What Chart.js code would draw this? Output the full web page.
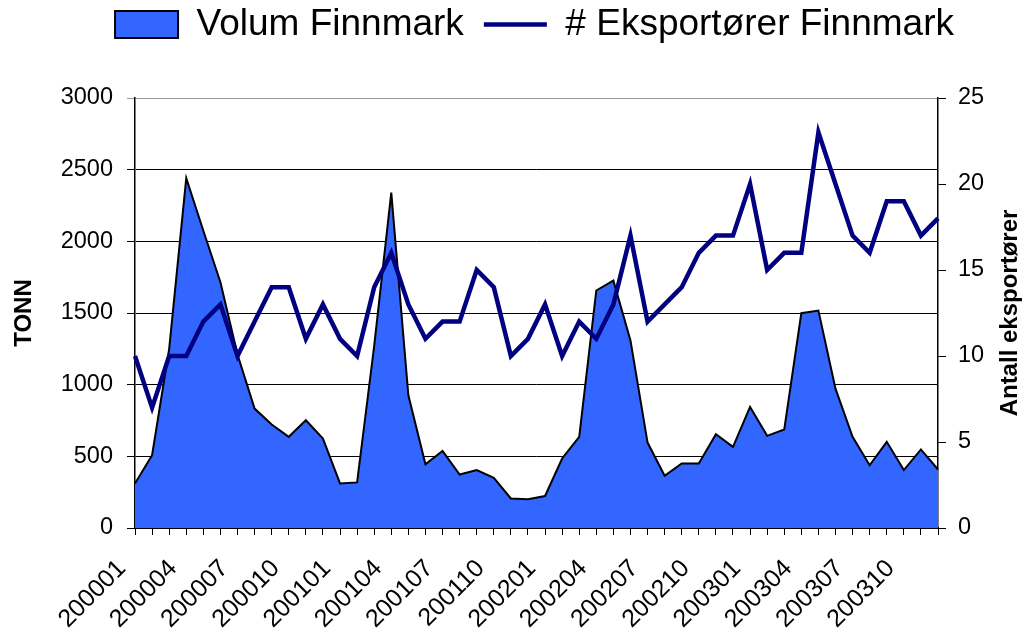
<!DOCTYPE html>
<html>
<head>
<meta charset="utf-8">
<title>Volum og eksportører Finnmark</title>
<script src="https://cdn.jsdelivr.net/npm/chart.js@4.4.1/dist/chart.umd.min.js"></script>
<style>
  body { margin: 0; background: #fff; }
  canvas { display: block; }
</style>
</head>
<body>
<canvas id="chart" width="1025" height="634"></canvas>
<script>
const months = [
    '200001', '200002', '200003', '200004', '200005', '200006', '200007', '200008', '200009', '200010', '200011', '200012',
    '200101', '200102', '200103', '200104', '200105', '200106', '200107', '200108', '200109', '200110', '200111', '200112',
    '200201', '200202', '200203', '200204', '200205', '200206', '200207', '200208', '200209', '200210', '200211', '200212',
    '200301', '200302', '200303', '200304', '200305', '200306', '200307', '200308', '200309', '200310', '200311', '200312'
];

const volum = [
    311, 508, 1250, 2441, 2074, 1715, 1210, 833, 722, 636, 752, 624,
    311, 318, 1270, 2340, 926, 445, 538, 373, 404, 350, 206, 200,
    223, 485, 636, 1657, 1726, 1309, 596, 364, 450, 450, 654, 566,
    845, 643, 687, 1499, 1517, 972, 636, 438, 601, 404, 548, 408
];

const eksportorer = [
    10, 7, 10, 10, 12, 13, 10, 12, 14, 14, 11, 13,
    11, 10, 14, 16, 13, 11, 12, 12, 15, 14, 10, 11,
    13, 10, 12, 11, 13, 17, 12, 13, 14, 16, 17, 17,
    20, 15, 16, 16, 23, 20, 17, 16, 19, 19, 17, 18
];

const tonnTicks = [0, 500, 1000, 1500, 2000, 2500, 3000];
const antallTicks = [0, 5, 10, 15, 20, 25];

const fontFamily = '"Liberation Sans", Arial, sans-serif';
Chart.defaults.font.family = fontFamily;
Chart.defaults.color = '#000';

// legend sits a bit higher and to the right, right title reads bottom-up
const tweaks = {
    id: 'tweaks',
    afterLayout(chart) {
        const lg = chart.legend;
        lg.left += 22;
        lg.right += 22;
        lg.top -= 45;
        lg.bottom -= 45;
    },
    afterDraw(chart) {
        const ctx = chart.ctx;
        const area = chart.chartArea;
        ctx.save();
        ctx.translate(1010, (area.top + area.bottom) / 2);
        ctx.rotate(-Math.PI / 2);
        ctx.font = 'bold 24px ' + fontFamily;
        ctx.fillStyle = '#000';
        ctx.textAlign = 'center';
        ctx.textBaseline = 'middle';
        ctx.fillText('Antall eksportører', 0, 0);
        ctx.restore();
    }
};

const ctx = document.getElementById('chart').getContext('2d');
new Chart(ctx, {
    type: 'line',
    data: {
        labels: months,
        datasets: [{
            label: 'Volum Finnmark',
            data: volum,
            yAxisID: 'y',
            fill: 'origin',
            backgroundColor: '#3366FF',
            borderColor: '#000',
            borderWidth: 2,
            pointRadius: 0,
            pointStyle: 'rect',
            pointBorderWidth: 2,
            tension: 0,
            order: 2
        }, {
            label: '# Eksportører Finnmark',
            data: eksportorer,
            yAxisID: 'y1',
            fill: false,
            borderColor: '#000080',
            backgroundColor: '#000080',
            borderWidth: 4.5,
            pointRadius: 0,
            pointStyle: 'line',
            pointBorderWidth: 4.5,
            tension: 0,
            order: 1
        }]
    },
    options: {
        responsive: false,
        animation: false,
        layout: { padding: { top: 31 } },
        plugins: {
            legend: {
                position: 'top',
                labels: {
                    usePointStyle: true,
                    pointStyleWidth: 63,
                    boxHeight: 27,
                    padding: 20,
                    color: '#000',
                    font: { size: 37 },
                    sort: (a, b) => a.datasetIndex - b.datasetIndex
                }
            },
            tooltip: { enabled: false }
        },
        scales: {
            x: {
                grid: { drawOnChartArea: false, drawTicks: true, tickLength: 7, color: '#000' },
                border: { color: '#000', width: 2 },
                ticks: {
                    autoSkip: false,
                    minRotation: 45,
                    maxRotation: 45,
                    padding: 19,
                    labelOffset: -13,
                    color: '#000',
                    font: { size: 25 },
                    callback: (v, i) => i % 3 === 0 ? months[i] : ''
                },
                afterFit: scale => { scale.height = 106; }
            },
            y: {
                position: 'left',
                min: tonnTicks[0],
                max: tonnTicks[tonnTicks.length - 1],
                afterBuildTicks: scale => { scale.ticks = tonnTicks.map(v => ({ value: v })); },
                ticks: { padding: 14, color: '#000', font: { size: 23.5 }, callback: v => String(v) },
                grid: {
                    color: ctx => ctx.tick && ctx.tick.value === 3000 ? '#999' : '#000',
                    tickLength: 8
                },
                border: { color: '#000', width: 1.5 },
                title: {
                    display: true,
                    text: 'TONN',
                    color: '#000',
                    font: { size: 24, weight: 'bold' },
                    padding: { top: 10, bottom: 0 }
                },
                afterFit: scale => { scale.width = 135; }
            },
            y1: {
                position: 'right',
                min: antallTicks[0],
                max: antallTicks[antallTicks.length - 1],
                afterBuildTicks: scale => { scale.ticks = antallTicks.map(v => ({ value: v })); },
                ticks: { padding: 12, color: '#000', font: { size: 23.5 }, callback: v => String(v) },
                grid: { drawOnChartArea: false, tickLength: 8, color: '#000' },
                border: { color: '#000', width: 1.5 },
                afterFit: scale => { scale.width = 87; }
            }
        }
    },
    plugins: [tweaks]
});
</script>
</body>
</html>
